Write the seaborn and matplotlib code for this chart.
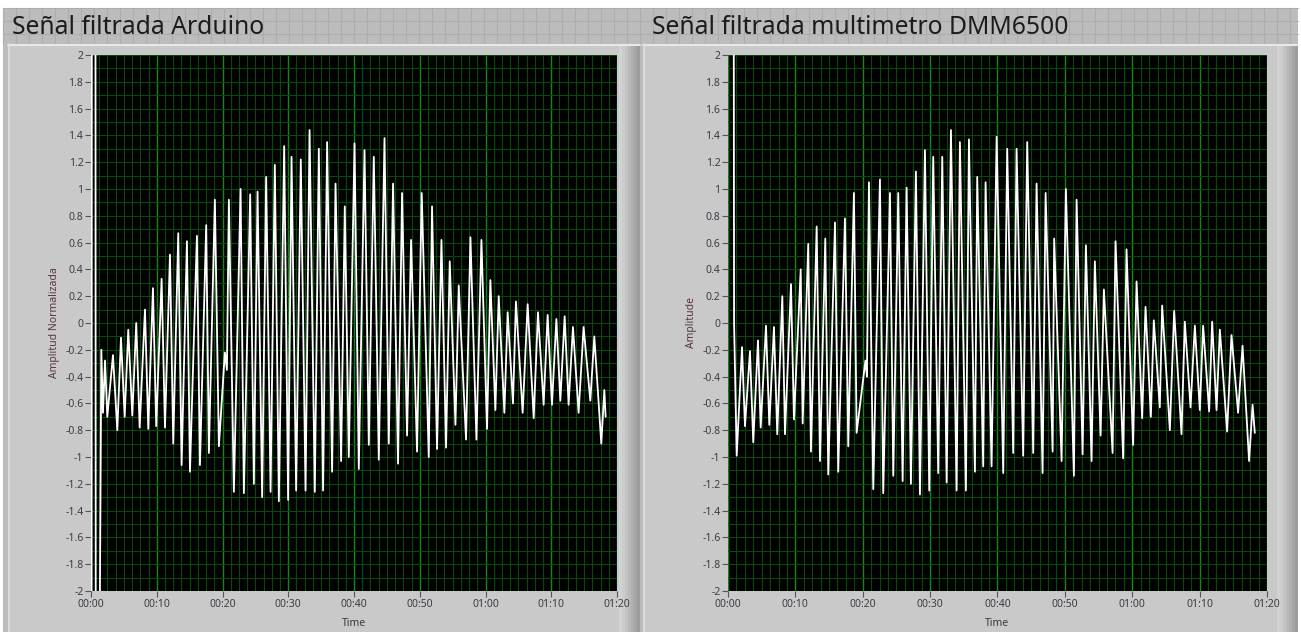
import matplotlib
matplotlib.use("Agg")
import matplotlib.pyplot as plt
import seaborn as sns
import pandas as pd
from matplotlib.ticker import MultipleLocator, FuncFormatter
from matplotlib.patches import Rectangle

# ---- values: time (s) and amplitude ----
# Arduino trace: peaks, troughs and the start-up transient
ard_peak_t = [1.57, 2.13, 3.34, 4.56, 5.67, 6.88, 8.21, 9.42, 10.74, 12.01, 13.27, 14.59,
              16.11, 17.52, 18.84, 20.36, 20.97, 22.75, 24.21, 25.33, 26.64, 27.96, 29.38,
              30.50, 31.91, 33.24, 34.65, 35.91, 37.19, 38.60, 40.08, 41.60, 43.01, 44.64,
              45.94, 47.31, 48.68, 50.30, 51.87, 53.30, 54.56, 55.93, 57.71, 59.38, 60.74,
              62.01, 63.37, 64.63, 66.41, 67.98, 69.45, 70.78, 72.04, 73.30, 74.92, 76.55, 78.07]
ard_peak_v = [-0.20, -0.28, -0.24, -0.11, -0.05, 0.00, 0.10, 0.26, 0.33, 0.51, 0.67, 0.61,
              0.65, 0.73, 0.92, -0.22, 0.92, 1.00, 0.96, 0.98, 1.09, 1.18, 1.32,
              1.24, 1.22, 1.44, 1.30, 1.35, 1.04, 0.87, 1.34, 1.29, 1.24, 1.38,
              1.04, 0.97, 0.62, 0.97, 0.87, 0.62, 0.46, 0.28, 0.64, 0.62, 0.32,
              0.20, 0.08, 0.16, 0.14, 0.08, 0.06, 0.03, 0.05, -0.03, -0.03, -0.10, -0.50]
ard_trough_t = [1.82, 2.48, 4.00, 5.12, 6.28, 7.40, 8.71, 9.92, 11.25, 12.51, 13.78, 15.05,
                16.57, 17.93, 19.45, 20.67, 21.73, 23.25, 24.77, 26.03, 27.31, 28.57, 29.98,
                31.20, 32.63, 34.04, 35.30, 36.67, 38.04, 39.21, 40.73, 42.25, 43.77, 45.29,
                46.70, 48.07, 49.59, 51.37, 52.63, 54.00, 55.43, 57.04, 58.62, 60.23, 61.50,
                62.87, 64.18, 65.65, 67.33, 68.84, 70.11, 71.38, 72.64, 74.16, 75.94, 77.61, 78.27]
ard_trough_v = [-0.67, -0.70, -0.80, -0.70, -0.69, -0.78, -0.79, -0.77, -0.78, -0.90, -1.06, -1.11,
                -1.06, -0.97, -0.92, -0.35, -1.26, -1.27, -1.20, -1.30, -1.26, -1.33, -1.32,
                -1.25, -1.25, -1.26, -1.25, -1.11, -1.03, -1.00, -1.09, -0.91, -1.02, -0.90,
                -1.05, -0.84, -0.96, -1.00, -0.94, -0.93, -0.76, -0.87, -0.87, -0.79, -0.65,
                -0.67, -0.60, -0.67, -0.71, -0.61, -0.61, -0.58, -0.61, -0.67, -0.58, -0.90, -0.70]
ard_start_t = [0.08, 0.12, 0.68, 0.72, 1.30]
ard_start_v = [-2.5, 2.5, 2.5, -2.5, -2.5]

# DMM6500 trace
dmm_peak_t = [2.08, 3.26, 4.45, 5.64, 6.82, 8.06, 9.35, 10.79, 11.91, 13.16, 14.44, 15.88,
              17.36, 18.69, 20.40, 20.92, 22.55, 24.04, 25.27, 26.51, 27.89, 29.23, 30.46,
              31.80, 33.09, 34.42, 35.76, 36.99, 38.23, 39.87, 41.44, 42.83, 44.41, 45.80,
              47.14, 48.41, 50.15, 51.74, 53.12, 54.45, 55.79, 57.52, 59.15, 60.64, 61.97,
              63.20, 64.44, 66.22, 67.80, 69.29, 70.52, 71.86, 73.00, 74.73, 76.37, 77.86]
dmm_peak_v = [-0.18, -0.21, -0.13, -0.02, -0.03, 0.20, 0.29, 0.40, 0.59, 0.72, 0.63, 0.75,
              0.78, 0.97, -0.28, 1.05, 1.07, 0.97, 0.97, 1.01, 1.13, 1.29, 1.24,
              1.24, 1.44, 1.35, 1.37, 1.09, 1.05, 1.39, 1.30, 1.30, 1.35, 1.04,
              0.97, 0.63, 1.00, 0.92, 0.58, 0.46, 0.25, 0.61, 0.55, 0.31, 0.12,
              0.02, 0.13, 0.09, 0.01, -0.02, -0.02, 0.01, -0.05, -0.09, -0.17, -0.61]
dmm_trough_t = [1.29, 2.52, 3.75, 4.85, 6.13, 7.31, 8.46, 9.79, 11.08, 12.31, 13.65, 14.88,
                16.36, 17.85, 19.09, 20.62, 21.56, 23.04, 24.53, 25.92, 27.15, 28.49, 29.87,
                31.20, 32.45, 33.93, 35.31, 36.65, 37.88, 39.12, 40.85, 42.33, 43.81, 45.30,
                46.69, 48.18, 49.51, 51.34, 52.63, 53.96, 55.30, 57.08, 58.65, 60.13, 61.47,
                62.76, 64.09, 65.58, 67.31, 68.65, 70.03, 71.41, 72.51, 74.08, 75.71, 77.34, 78.19]
dmm_trough_v = [-0.99, -0.77, -0.89, -0.78, -0.76, -0.83, -0.83, -0.72, -0.75, -0.96, -1.03, -1.13,
                -1.11, -0.92, -0.82, -0.40, -1.24, -1.27, -1.14, -1.18, -1.20, -1.28, -1.25,
                -1.12, -1.19, -1.25, -1.25, -1.11, -1.07, -1.07, -1.12, -0.97, -0.99, -0.97,
                -1.12, -0.96, -1.03, -1.14, -0.98, -1.03, -0.84, -0.97, -1.01, -0.91, -0.71,
                -0.70, -0.63, -0.80, -0.83, -0.63, -0.65, -0.66, -0.65, -0.81, -0.67, -1.03, -0.82]
dmm_start_t = [0.00, 0.85, 0.90]
dmm_start_v = [2.5, 2.5, 0.0]

titles = ["Señal filtrada Arduino", "Señal filtrada multimetro DMM6500"]
ylabels = ["Amplitud Normalizada", "Amplitude"]


def trace(start_t, start_v, peak_t, peak_v, trough_t, trough_v):
    return pd.DataFrame({"t": start_t + peak_t + trough_t,
                         "v": start_v + peak_v + trough_v})


traces = [trace(ard_start_t, ard_start_v, ard_peak_t, ard_peak_v, ard_trough_t, ard_trough_v),
          trace(dmm_start_t, dmm_start_v, dmm_peak_t, dmm_peak_v, dmm_trough_t, dmm_trough_v)]

sns.set_theme(style="dark")
plt.rcParams["font.family"] = ["Noto Sans", "DejaVu Sans"]

W, H = 1301, 632
fig = plt.figure(figsize=(W / 100, H / 100), dpi=100, facecolor="white")

# background: LabVIEW-like front panel drawn in pixel coordinates
bg = fig.add_axes([0, 0, 1, 1], zorder=-10)
bg.set_xlim(0, W)
bg.set_ylim(H, 0)
bg.axis("off")
bg.add_patch(Rectangle((3, 8), W - 6, H - 8, fc="#bcbcbc", ec="none"))
for gx in range(3, W - 3, 13):
    bg.plot([gx, gx], [8, 44], color="#adadad", lw=0.8)
for gy in (8, 21, 34):
    bg.plot([3, W - 3], [gy, gy], color="#adadad", lw=0.8)

panels = [(8, 640), (643, 1298)]
for x0, x1 in panels:
    bg.add_patch(Rectangle((x0, 44), x1 - x0, H - 44, fc="#c9c9c9", ec="none"))
    bg.plot([x0, x1], [44.5, 44.5], color="#e8e8e8", lw=1.5)
    bg.plot([x0 + 0.5, x0 + 0.5], [44, H], color="#e0e0e0", lw=1.2)
    # bevel on the right edge
    shades = ["#d2d2d2", "#cccccc", "#c4c4c4", "#bababa", "#b0b0b0", "#a6a6a6", "#9c9c9c"]
    for i, c in enumerate(shades):
        bg.add_patch(Rectangle((x1 - 21 + 3 * i, 44), 3, H - 44, fc=c, ec="none"))

# plot areas in pixels: (left, right)
areas = [(91, 617), (728, 1267)]
top, bottom = 55, 591

mmss = FuncFormatter(lambda v, p: f"{int(v // 60):02d}:{int(round(v % 60)):02d}")
num = FuncFormatter(lambda v, p: f"{v:g}" if abs(v) > 1e-9 else "0")

for k, ((xl, xr), df) in enumerate(zip(areas, traces)):
    ax = fig.add_axes([xl / W, (H - bottom) / H, (xr - xl) / W, (bottom - top) / H])
    ax.set_facecolor("black")
    sns.lineplot(data=df, x="t", y="v", sort=True, estimator=None,
                 color="white", lw=1.3, ax=ax)
    ax.set_xlim(0, 80)
    ax.set_ylim(-2, 2)
    ax.xaxis.set_major_locator(MultipleLocator(10))
    ax.xaxis.set_minor_locator(MultipleLocator(1.25))
    ax.yaxis.set_major_locator(MultipleLocator(0.2))
    ax.yaxis.set_minor_locator(MultipleLocator(0.1))
    ax.xaxis.set_major_formatter(mmss)
    ax.yaxis.set_major_formatter(num)
    ax.grid(True, which="minor", color="#074a07", lw=0.8)
    ax.grid(True, which="major", axis="y", color="#074a07", lw=0.8)
    ax.grid(True, which="major", axis="x", color="#128a12", lw=1.0)
    ax.set_axisbelow(True)
    for s in ax.spines.values():
        s.set_visible(False)
    ax.tick_params(which="major", direction="out", length=4, width=0.8,
                   color="#555555", labelsize=7.5, labelcolor="#3e3a46", pad=1.5,
                   bottom=True, left=True)
    ax.tick_params(which="minor", length=0)
    ax.set_xlabel("Time", fontsize=7.5, color="#3a3a3a", labelpad=6)
    ax.set_ylabel(ylabels[k], fontsize=7.5, color="#5a3540", labelpad=4)
    fig.text((xl - 79 if k == 0 else xl - 76) / W, 1 - 27 / H, titles[k],
             fontsize=17.8, color="#1c1c1c", va="center", ha="left")

fig.savefig("out.png", dpi=100, facecolor=fig.get_facecolor())
